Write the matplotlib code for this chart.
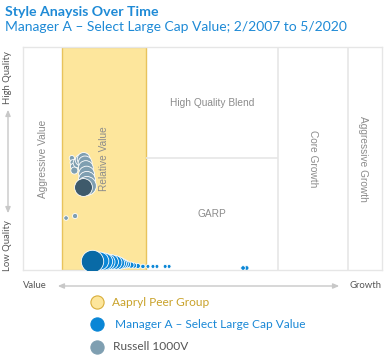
import matplotlib.pyplot as plt
from matplotlib.lines import Line2D

# style map: x 0 (value) .. 100 (growth), y 0 (low quality) .. 100 (high quality)
box_edges_x = [10.9, 34.3, 70.9, 90.5]   # yellow band left/right, core growth, aggressive growth
blend_split_y = 50.2

box_names = ['Aggressive Value', 'Relative Value', 'High Quality Blend', 'GARP', 'Core Growth', 'Aggressive Growth']

# Russell 1000V, oldest -> newest
r1000_x = [12.0, 14.5, 13.6, 13.9, 14.1, 14.3, 15.3, 16.2, 16.9, 17.3, 17.5, 17.7, 17.8, 17.8, 16.6]
r1000_y = [23.3, 24.2, 50.2, 48.2, 46.4, 44.6, 48.0, 49.3, 49.8, 48.0, 45.7, 43.0, 40.4, 37.7, 37.1]
r1000_s = [11, 14, 14, 17, 21, 26, 48, 72, 86, 100, 115, 130, 150, 185, 165]

# Manager A, oldest -> newest
mgr_x = [62.3, 61.3, 40.7, 39.6, 37.3, 36.2, 34.8, 33.4, 32.0, 30.9, 30.1, 29.0, 28.1, 27.3, 26.5, 25.6, 24.5, 23.4, 22.6, 21.4, 19.1]
mgr_y = [0.9, 0.9, 1.6, 1.6, 1.6, 1.6, 1.6, 1.6, 1.8, 2.0, 2.2, 2.5, 2.7, 2.9, 3.1, 3.4, 3.6, 3.6, 3.8, 4.0, 4.0]
mgr_s = [11, 11, 8, 8, 8, 8, 8, 10, 13, 15, 19, 25, 42, 63, 88, 102, 117, 133, 150, 168, 260]

W, H = 386, 356
fig = plt.figure(figsize=(W / 100, H / 100), dpi=100)
plt.rcParams['font.family'] = ['Lato', 'DejaVu Sans']


def fx(px):
    return px / W


def fy(py):
    return 1 - py / H


ax = fig.add_axes([fx(23), fy(270), (382 - 23) / W, (270 - 47) / H])
ax.set_xlim(0, 100)
ax.set_ylim(0, 100)
ax.set_xticks([])
ax.set_yticks([])
for s in ax.spines.values():
    s.set_color('#e6e6e6')
    s.set_linewidth(1)

ax.axvspan(box_edges_x[0], box_edges_x[1], facecolor='#fde69c', edgecolor='#e8c35c', linewidth=1, zorder=1)
ax.axvline(box_edges_x[2], color='#e6e6e6', lw=1.2, zorder=1)
ax.axvline(box_edges_x[3], color='#e6e6e6', lw=1.2, zorder=1)
ax.hlines(blend_split_y, box_edges_x[1], box_edges_x[2], color='#e6e6e6', lw=1.2, zorder=1)

lab = dict(color='#8c8c8c', fontsize=7.3, family=['Liberation Sans', 'DejaVu Sans'], ha='center', va='center')
ax.text(5.6, 50, box_names[0], rotation=90, **lab)
ax.text(22.6, 50, box_names[1], rotation=90, **lab)
ax.text(52.6, 74.9, box_names[2], **lab)
ax.text(52.6, 25.1, box_names[3], **lab)
ax.text(80.8, 50, box_names[4], rotation=270, **lab)
ax.text(94.7, 50, box_names[5], rotation=270, **lab)

ax.scatter(r1000_x[:-1], r1000_y[:-1], s=r1000_s[:-1], color='#7f9fb1', edgecolors='white', linewidths=0.6, zorder=3)
ax.scatter(r1000_x[-1:], r1000_y[-1:], s=r1000_s[-1:], color='#3e5a6b', edgecolors='white', linewidths=0.6, zorder=4)
ax.scatter(mgr_x[:-1], mgr_y[:-1], s=mgr_s[:-1], color='#0a86d6', edgecolors='white', linewidths=0.6, zorder=3)
ax.scatter(mgr_x[-1:], mgr_y[-1:], s=mgr_s[-1:], color='#096aa6', edgecolors='white', linewidths=0.6, zorder=4)

# titles
fig.text(fx(5), fy(12), 'Style Anaysis Over Time', color='#1e8ad6', fontsize=10.2, fontweight='bold', va='center')
fig.text(fx(5), fy(27), 'Manager A \u2013 Select Large Cap Value; 2/2007 to 5/2020', color='#1e8ad6', fontsize=10, va='center')

# axis arrows
arr = dict(arrowstyle='<|-|>,head_length=0.35,head_width=0.15', color='#c8c8c8', lw=1)
fig.add_artist(plt.Annotation('', xy=(fx(342), fy(286)), xytext=(fx(55), fy(286)),
                              xycoords='figure fraction', arrowprops=arr))
fig.add_artist(plt.Annotation('', xy=(fx(8), fy(107)), xytext=(fx(8), fy(216)),
                              xycoords='figure fraction', arrowprops=arr))
axl = dict(color='#555555', fontsize=6.8, va='center', ha='center')
fig.text(fx(35), fy(286), 'Value', **axl)
fig.text(fx(365), fy(286), 'Growth', **axl)
fig.text(fx(8), fy(78), 'High Quality', rotation=90, **axl)
fig.text(fx(8), fy(246), 'Low Quality', rotation=90, **axl)

# legend
leg = [('Aapryl Peer Group', '#fde69c', '#d9ae3a', '#c9a22a', 302, 112),
       ('Manager A \u2013 Select Large Cap Value', '#0a86d6', '#0a86d6', '#1a88d6', 324, 115),
       ('Russell 1000V', '#7f9fb1', '#7f9fb1', '#555555', 347, 113)]
for name, fc, ec, tc, py, px in leg:
    fig.add_artist(Line2D([fx(97)], [fy(py)], marker='o', markersize=9.5, markerfacecolor=fc,
                          markeredgecolor=ec, markeredgewidth=0.8, transform=fig.transFigure))
    fig.text(fx(px), fy(py), name, color=tc, fontsize=8.6, va='center')

fig.savefig('out.png', dpi=100)
